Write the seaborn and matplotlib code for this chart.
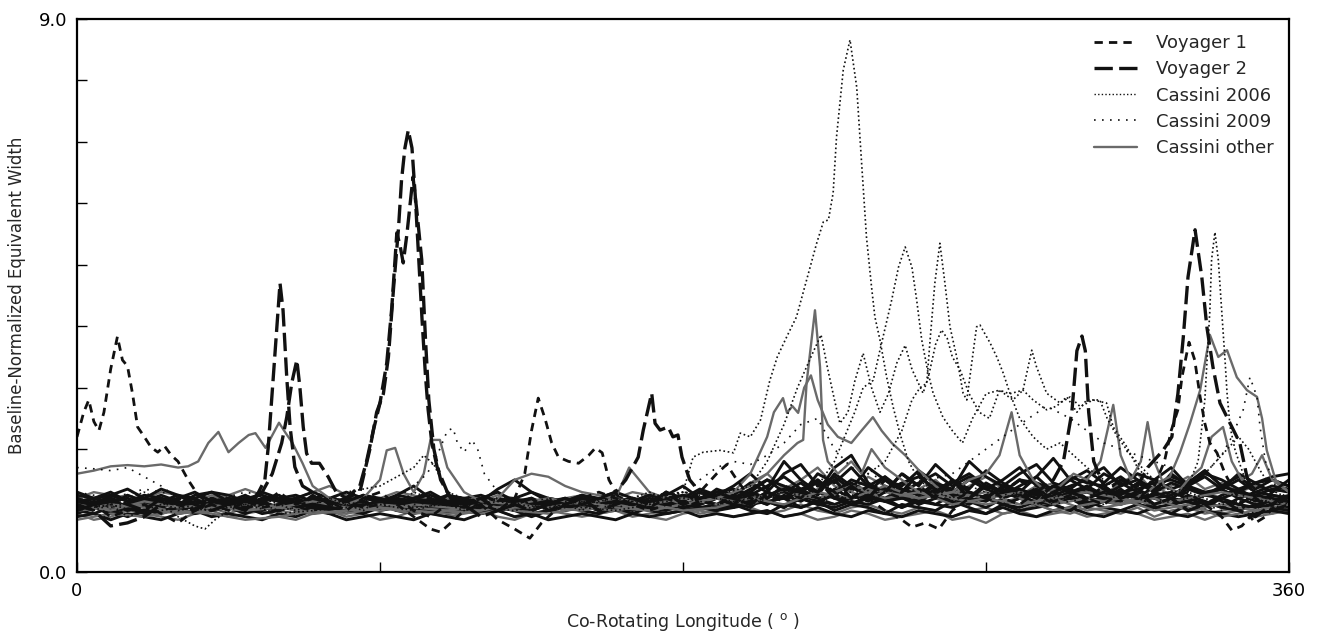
import numpy as np
import matplotlib
matplotlib.use("Agg")
import matplotlib.pyplot as plt
import seaborn as sns
from matplotlib.lines import Line2D

# ---- data ----
lon5 = list(range(0, 361, 5))

# Voyager 1 profiles
v1a_lon = [0, 2, 3.5, 5, 6.5, 8, 10, 12, 13.5, 15, 16.5, 18, 20, 22, 24, 26, 28, 30, 33, 36, 40, 45, 50, 55,
           60, 65, 70, 75, 80, 85, 90, 95, 100, 105, 110, 115, 120, 125, 130, 133, 135, 137, 139, 141, 143,
           146, 149, 152, 154, 156, 158, 161, 165, 170, 175, 180, 185, 190, 195, 200, 205, 210, 215, 220, 225,
           230, 235, 240, 245, 250, 255, 260, 265, 270, 275, 280, 285, 290, 295, 300, 305, 310, 315, 320, 323,
           325, 327, 328.2, 330.3, 332, 333.6, 335, 336.5, 338.6, 341, 344, 347, 350, 353, 356, 360]
v1a_val = [2.2, 2.6, 2.8, 2.45, 2.3, 2.6, 3.3, 3.83, 3.45, 3.35, 2.9, 2.36, 2.2, 2.03, 1.95, 2.05, 1.9, 1.8, 1.5,
           1.25, 1.1, 1.0, 1.15, 1.05, 1.1, 1.2, 1.0, 1.1, 1.15, 1.05, 1.1, 1.2, 1.0, 0.9, 1.1, 1.05, 1.1, 1.0,
           1.2, 1.6, 2.3, 2.83, 2.5, 2.1, 1.87, 1.8, 1.77, 1.9, 2.02, 1.94, 1.5, 1.2, 1.1, 1.0, 1.1, 1.05, 1.15,
           1.1, 1.2, 1.1, 1.25, 1.15, 1.3, 1.2, 1.1, 1.25, 1.15, 1.3, 1.2, 1.1, 1.25, 1.15, 1.3, 1.2, 1.1, 1.2,
           1.3, 1.15, 1.25, 1.2, 1.1, 1.3, 1.2, 1.4, 1.8, 2.3, 2.64, 3.17, 3.74, 3.45, 2.85, 2.42, 2.1, 1.94,
           1.6, 1.3, 1.0, 0.8, 0.9, 1.1, 1.2]

v1b_lon = [0, 5, 10, 15, 20, 25, 30, 35, 40, 45, 50, 55, 60, 65, 70, 75, 80, 85, 90, 95, 100, 105, 108, 111,
           115, 120, 125, 130, 134.5, 138, 142, 145, 150, 155, 160, 165, 170, 175, 180, 185, 190, 193, 196,
           200, 205, 210, 215, 220, 225, 230, 235, 240, 245, 248, 252, 256, 260, 265, 270, 275, 280, 285, 290,
           295, 300, 305, 310, 315, 320, 325, 330, 335, 340, 343, 346, 350, 355, 360]
v1b_val = [1.2, 1.1, 0.9, 1.0, 1.1, 0.95, 0.8, 1.0, 1.1, 1.2, 1.05, 1.1, 1.3, 1.1, 1.2, 1.15, 1.0, 1.2, 1.3, 1.1,
           0.9, 0.7, 0.65, 0.8, 1.0, 1.1, 0.85, 0.7, 0.55, 0.8, 1.0, 1.1, 1.2, 1.3, 1.2, 1.1, 1.05, 1.2, 1.1,
           1.3, 1.6, 1.75, 1.5, 1.2, 1.1, 1.3, 1.2, 1.5, 1.3, 1.1, 1.2, 1.0, 0.85, 0.73, 0.8, 0.7, 1.0, 1.2,
           1.4, 1.2, 1.1, 1.3, 1.1, 1.0, 1.2, 1.4, 1.2, 1.3, 1.1, 1.2, 1.3, 1.1, 0.9, 0.68, 0.75, 1.0, 1.3, 1.5]

# Voyager 2 profiles
v2a_lon = [0, 5, 10, 15, 20, 25, 30, 35, 40, 45, 50, 55, 58, 60.8, 62.3, 63.8, 65.3, 66.2, 67.2, 68.2, 69.7,
           72, 74.6, 77, 80, 84, 86, 88, 90, 92, 93.5, 95, 96, 96.9, 98, 99.8, 100.9, 102.4, 103.5, 104.5, 106,
           108, 111, 115, 120, 125, 130, 135, 140, 145, 150, 155, 160, 163, 166.7, 168.2, 170.7, 171.7, 173.2,
           175.6, 177, 178.5, 179.7, 182, 185, 190, 195, 200, 205, 210, 215, 220, 225, 230, 235, 240, 245,
           250, 255, 260, 265, 270, 275, 280, 285, 290, 293, 295.5, 297, 298.5, 299.5, 300.5, 302, 305, 310,
           315, 320, 325, 330, 335, 340, 345, 350, 355, 360]
v2a_val = [1.1, 1.0, 0.75, 0.8, 0.9, 1.1, 1.2, 1.1, 1.0, 1.1, 1.2, 1.3, 1.6, 2.1, 2.52, 3.08, 3.45, 3.01, 2.36,
           1.93, 1.77, 1.77, 1.55, 1.3, 1.2, 1.4, 1.8, 2.3, 2.75, 3.4, 4.3, 5.52, 5.3, 5.03, 5.5, 6.43, 5.9,
           5.08, 3.8, 2.8, 2.0, 1.5, 1.2, 1.1, 0.9, 1.0, 1.1, 1.0, 1.1, 1.2, 1.1, 1.2, 1.3, 1.5, 1.87, 2.31,
           2.91, 2.42, 2.31, 2.36, 2.2, 2.23, 1.87, 1.5, 1.3, 1.2, 1.1, 1.3, 1.2, 1.4, 1.3, 1.5, 1.2, 1.4, 1.2,
           1.5, 1.3, 1.6, 1.3, 1.5, 1.2, 1.4, 1.3, 1.5, 1.3, 1.5, 1.8, 2.6, 3.6, 3.84, 3.6, 2.6, 1.8, 1.4, 1.2,
           1.3, 1.1, 1.2, 1.0, 1.1, 1.2, 1.0, 0.9, 1.1, 1.3]

v2b_lon = [0, 5, 10, 15, 20, 25, 30, 35, 40, 45, 50, 53, 55.8, 56.8, 58.3, 60.3, 61.2, 62.3, 63.3, 64.7, 67,
           70, 75, 80, 84, 87, 89, 91, 92.5, 94, 95.5, 96.4, 97.4, 98.4, 99.5, 100.5, 101.5, 102.5, 103.5,
           104.3, 105.4, 107, 110, 115, 120, 125, 130, 135, 140, 145, 150, 155, 160, 165, 170, 175, 180, 185,
           190, 195, 200, 205, 210, 215, 220, 225, 230, 235, 240, 245, 250, 255, 260, 265, 270, 275, 280, 285,
           290, 295, 300, 305, 310, 315, 318, 322.6, 325.2, 327, 328.6, 330, 332.1, 334.1, 335.6, 337.4,
           339.5, 342.5, 345.4, 347.5, 350, 355, 360]
v2b_val = [1.0, 1.1, 1.2, 1.1, 1.0, 1.2, 1.1, 1.0, 1.2, 1.1, 1.0, 1.2, 1.5, 2.03, 3.17, 4.7, 4.26, 3.17, 2.36,
           1.71, 1.4, 1.3, 1.1, 1.2, 1.3, 2.0, 2.6, 2.9, 3.5, 4.6, 5.6, 6.38, 6.9, 7.19, 6.9, 6.1, 5.1, 4.1,
           3.2, 2.64, 2.1, 1.7, 1.3, 1.1, 1.2, 1.0, 1.1, 1.2, 1.0, 1.1, 1.2, 1.0, 1.1, 1.2, 1.1, 1.3, 1.1, 1.2,
           1.3, 1.2, 1.1, 1.3, 1.2, 1.4, 1.3, 1.5, 1.2, 1.4, 1.3, 1.6, 1.4, 1.2, 1.5, 1.3, 1.2, 1.4, 1.3, 1.2,
           1.4, 1.3, 1.2, 1.3, 1.5, 1.4, 1.7, 1.98, 2.2, 2.9, 3.82, 4.8, 5.57, 4.8, 3.99, 3.34, 2.75, 2.42,
           2.1, 1.55, 1.2, 1.0, 1.1]

# Cassini 2006 profiles
c06a_lon = [0, 5, 10, 15, 20, 25, 30, 35, 38, 41, 45, 50, 55, 60, 65, 70, 75, 80, 85, 90, 95, 100, 105, 110,
            115, 120, 125, 130, 135, 140, 145, 150, 155, 160, 165, 170, 175, 180, 183, 186, 191, 195, 197, 200,
            203, 205.8, 208, 211, 213.7, 216.7, 219.7, 221.7, 223.2, 224.6, 225.6, 227.6, 229.6, 231.6, 233,
            234.5, 236, 237, 238.5, 240.5, 242.4, 244.4, 247, 250, 255, 260, 265, 270, 275, 280, 285, 290,
            295, 300, 305, 310, 315, 320, 325, 330, 335, 340, 345, 350, 355, 360]
c06a_val = [1.1, 1.0, 1.1, 0.9, 1.0, 1.1, 0.9, 0.75, 0.7, 0.85, 1.0, 1.1, 1.2, 1.1, 1.0, 1.1, 1.2, 1.1, 1.0,
            1.2, 1.1, 1.3, 1.2, 1.1, 1.0, 1.1, 1.2, 1.1, 1.0, 1.2, 1.1, 1.0, 1.2, 1.1, 1.2, 1.3, 1.2, 1.3, 1.87,
            1.95, 1.98, 1.94, 2.26, 2.2, 2.47, 3.12, 3.5, 3.85, 4.15, 4.75, 5.35, 5.7, 5.73, 6.17, 7.08, 8.17,
            8.66, 7.89, 6.7, 5.45, 4.64, 4.15, 3.78, 3.17, 2.69, 2.26, 1.8, 1.5, 1.3, 1.2, 1.4, 1.3, 1.2, 1.3,
            1.1, 1.2, 1.3, 1.2, 1.1, 1.3, 1.2, 1.1, 1.3, 1.2, 1.1, 1.2, 1.3, 1.1, 1.2, 1.1]

c06b_lon = [0, 10, 20, 30, 40, 50, 60, 70, 80, 90, 100, 103, 106, 110, 120, 130, 140, 150, 160, 170, 180,
            190, 200, 210, 215, 220, 225, 228, 231, 233.5, 236.5, 238.5, 242, 244, 246, 248, 249.4, 250.9,
            252.8, 254.3, 257.2, 260, 263, 266, 270, 274, 278, 281, 283.6, 285, 288, 292, 295, 298, 301.8,
            305.8, 307.8, 311.8, 315, 320, 325, 330, 340, 350, 360]
c06b_val = [1.2, 1.1, 1.3, 1.0, 1.1, 1.2, 1.0, 1.1, 1.3, 1.4, 1.7, 1.9, 1.75, 1.3, 1.1, 1.2, 1.0, 1.1, 1.2,
            1.1, 1.3, 1.2, 1.1, 1.3, 1.2, 1.4, 1.8, 2.2, 2.6, 3.0, 3.12, 3.61, 4.43, 4.96, 5.29, 4.96, 4.43,
            3.78, 3.24, 2.91, 2.52, 2.3, 2.1, 2.5, 2.9, 2.96, 2.8, 2.96, 3.61, 3.34, 2.91, 2.75, 2.85, 2.69,
            2.8, 2.75, 2.36, 2.04, 1.7, 1.4, 1.2, 1.3, 1.1, 1.2, 1.0]

c06c_lon = [0, 10, 20, 30, 40, 50, 60, 70, 80, 90, 100, 110, 120, 130, 140, 150, 160, 170, 180, 190, 200, 210,
            220, 230, 235, 240, 245, 248, 250.4, 252.4, 253.4, 254.8, 256.3, 257.8, 259.3, 261.3, 263.2,
            264.3, 266, 267.2, 268.2, 271.2, 273.2, 275.1, 277.1, 280, 284, 288, 292, 296, 300, 305, 310,
            315, 320, 325, 330, 333, 335, 336.5, 337, 338, 339, 340, 341, 341.6, 342.5, 344, 347, 350, 355,
            360]
c06c_val = [1.0, 1.1, 0.95, 1.05, 1.0, 1.1, 0.95, 1.0, 1.05, 1.1, 1.0, 1.15, 1.05, 1.0, 1.1, 1.05, 1.0, 1.1,
            1.2, 1.1, 1.2, 1.3, 1.2, 1.3, 1.6, 1.8, 2.3, 2.8, 3.0, 3.07, 3.78, 4.7, 5.35, 4.7, 3.99, 3.5, 2.91,
            2.8, 3.5, 3.99, 4.02, 3.73, 3.5, 3.24, 2.91, 2.5, 2.2, 2.0, 2.1, 1.9, 1.7, 1.5, 1.3, 1.2, 1.3, 1.2,
            1.4, 1.8, 2.8, 4.26, 5.08, 5.53, 5.08, 4.26, 3.45, 2.91, 2.36, 1.98, 1.5, 1.2, 1.1, 1.2]

c06d_lon = [0, 10, 20, 30, 40, 50, 60, 70, 80, 90, 100, 110, 120, 130, 140, 150, 160, 170, 180, 190, 200,
            205, 210, 214, 218, 221, 223, 225, 226.6, 229, 231, 233.5, 236, 238.5, 241, 243.5, 246, 248,
            251.3, 253, 255, 256.8, 258.5, 260, 262.3, 265, 268, 271, 274, 277, 281, 284, 288, 291, 294, 297,
            299.9, 303.8, 306, 309, 313, 318, 322, 326, 330, 335, 340, 345, 348, 352, 356, 360]
c06d_val = [1.15, 1.05, 1.2, 1.1, 1.0, 1.15, 1.2, 1.05, 1.1, 1.2, 1.05, 1.1, 1.2, 1.1, 1.05, 1.15, 1.1, 1.2,
            1.3, 1.25, 1.4, 1.8, 2.4, 3.0, 3.5, 3.86, 3.3, 2.8, 2.42, 2.6, 3.1, 3.56, 3.0, 2.6, 2.9, 3.4, 3.69,
            3.3, 2.91, 3.2, 3.7, 3.94, 3.8, 3.5, 3.29, 2.9, 2.6, 2.5, 2.96, 2.9, 2.96, 2.8, 2.64, 2.7, 2.85,
            2.6, 2.8, 2.8, 2.5, 2.2, 1.9, 1.6, 1.4, 1.3, 1.4, 1.6, 1.9, 2.2, 2.0, 1.6, 1.3, 1.2]

# Cassini 2009 profiles
c09a_lon = [0, 5, 10, 15, 20, 25, 30, 35, 40, 50, 60, 70, 80, 90, 95, 100, 104, 107, 110, 111.7, 113, 115,
            117.3, 119, 121, 125, 130, 140, 150, 160, 170, 180, 185, 190, 195, 200, 205, 210, 215, 220, 225,
            230, 240, 250, 260, 270, 280, 290, 300, 310, 320, 330, 340, 350, 360]
c09a_val = [1.7, 1.68, 1.65, 1.7, 1.55, 1.4, 1.2, 1.1, 1.15, 1.05, 1.1, 1.2, 1.1, 1.05, 1.2, 1.4, 1.6, 1.9, 2.3,
            2.34, 2.1, 1.95, 2.15, 2.0, 1.6, 1.3, 1.1, 1.2, 1.1, 1.05, 1.15, 1.2, 1.5, 1.7, 1.8, 1.75, 1.9, 2.1,
            2.4, 2.5, 2.0, 1.7, 1.5, 1.3, 1.4, 1.2, 1.3, 1.1, 1.2, 1.3, 1.1, 1.2, 1.0, 1.1, 1.2]

c09b_lon = [0, 10, 20, 30, 40, 50, 60, 70, 80, 90, 100, 120, 140, 160, 180, 200, 220, 240, 260, 270, 280,
            288, 295, 300, 305, 310, 315, 320, 325, 330, 335, 340, 343, 346.4, 348.4, 350.5, 351.4, 353, 356,
            360]
c09b_val = [1.3, 1.2, 1.35, 1.25, 1.15, 1.3, 1.2, 1.1, 1.25, 1.2, 1.1, 1.2, 1.1, 1.2, 1.3, 1.2, 1.4, 1.3, 1.6,
            2.0, 2.4, 2.7, 2.5, 2.3, 2.1, 2.0, 1.9, 1.8, 1.7, 1.4, 1.6, 1.9, 2.2, 2.64, 3.17, 2.85, 2.36, 1.8,
            1.4, 1.2]

# Cassini other (grey) profiles with visible features
g1_lon = [0, 5, 10, 15, 20, 25, 30, 33, 36, 39, 42, 45, 48, 51, 53, 56, 60, 62, 64, 67, 70, 75, 80, 85, 90,
          92, 94.5, 97, 100, 103, 105, 107.8, 110, 115, 120, 130, 140, 150, 160, 170, 180, 190, 200, 210,
          220, 230, 240, 250, 260, 270, 280, 290, 300, 310, 320, 330, 340, 350, 360]
g1_val = [1.6, 1.65, 1.72, 1.74, 1.72, 1.75, 1.7, 1.72, 1.8, 2.1, 2.28, 1.95, 2.1, 2.23, 2.26, 2.02, 2.43, 2.26,
          2.1, 1.77, 1.4, 1.2, 1.1, 1.2, 1.5, 1.98, 2.02, 1.6, 1.3, 1.6, 2.15, 2.15, 1.7, 1.3, 1.15, 1.1, 1.2,
          1.1, 1.2, 1.1, 1.2, 1.1, 1.2, 1.3, 1.2, 1.4, 1.3, 1.2, 1.3, 1.2, 1.1, 1.2, 1.3, 1.2, 1.1, 1.2, 1.3,
          1.2, 1.1]

g2_lon = [0, 10, 20, 30, 40, 50, 60, 70, 80, 90, 100, 110, 120, 130, 140, 150, 160, 170, 180, 190, 195, 200,
          205, 210, 214, 215.7, 216.7, 219.2, 220.7, 221.6, 223, 226, 230, 233, 236, 240, 245, 250, 260, 270,
          280, 290, 300, 310, 320, 330, 340, 350, 360]
g2_val = [1.0, 1.05, 1.1, 0.95, 1.0, 1.1, 1.05, 0.95, 1.0, 1.1, 1.05, 1.0, 0.95, 1.05, 1.05, 1.0, 1.1, 1.0,
          1.1, 1.2, 1.3, 1.4, 1.6, 1.9, 2.1, 2.15, 3.07, 4.26, 3.34, 2.15, 1.8, 1.6, 1.8, 1.6, 2.0, 1.7, 1.5,
          1.3, 1.2, 1.3, 1.1, 1.2, 1.0, 1.1, 1.2, 1.0, 1.1, 1.0, 1.1]

g3_lon = [0, 10, 20, 30, 40, 50, 60, 70, 80, 90, 100, 110, 120, 125, 130, 135, 140, 145, 150, 160, 164, 170,
          180, 190, 195, 200, 205, 207, 209.7, 210.9, 212.5, 214.2, 216, 218, 220, 223, 226, 230, 233,
          236.4, 239, 242, 246, 250, 255, 260, 270, 280, 290, 300, 310, 320, 330, 340, 350, 360]
g3_val = [0.85, 0.95, 0.9, 1.0, 0.95, 0.85, 0.9, 1.0, 0.95, 1.05, 1.0, 0.95, 1.0, 1.2, 1.5, 1.6, 1.55, 1.4,
          1.3, 1.2, 1.7, 1.3, 1.1, 1.2, 1.3, 1.6, 2.2, 2.6, 2.83, 2.59, 2.7, 2.59, 3.0, 3.2, 2.8, 2.4, 2.2,
          2.1, 2.3, 2.52, 2.3, 2.1, 1.9, 1.66, 1.4, 1.2, 1.1, 1.2, 1.0, 1.1, 1.2, 1.0, 1.1, 0.9, 1.0, 1.1]

g4_lon = [0, 10, 20, 30, 40, 50, 60, 70, 80, 90, 100, 110, 120, 130, 140, 150, 160, 170, 180, 190, 200, 210,
          220, 230, 240, 250, 260, 270, 280, 290, 300, 310, 318, 321, 324.6, 327.6, 330.6, 333.6, 336.5, 339,
          341.6, 344.5, 347.5, 350.5, 352, 353.4, 356, 360]
g4_val = [1.1, 1.0, 1.15, 1.05, 1.1, 1.0, 1.05, 1.15, 1.05, 1.0, 1.1, 1.05, 1.0, 1.1, 1.05, 1.15, 1.05, 1.0,
          1.1, 1.2, 1.1, 1.3, 1.2, 1.4, 1.2, 1.3, 1.1, 1.2, 1.3, 1.1, 1.2, 1.1, 1.3, 1.45, 1.55, 1.94, 2.42,
          2.96, 3.86, 3.5, 3.61, 3.17, 2.96, 2.85, 2.5, 1.98, 1.5, 1.3]

g5_lon = [0, 10, 20, 30, 40, 50, 60, 70, 80, 90, 100, 110, 120, 130, 140, 150, 160, 170, 180, 190, 200, 210,
          220, 230, 240, 250, 260, 265, 270, 274, 277.6, 280, 284, 288, 292, 296, 300, 304, 307.8, 310, 313,
          316, 318, 320, 323, 327, 330, 334, 337, 340.4, 343, 346, 349, 352, 355, 360]
g5_val = [1.0, 1.1, 1.05, 0.95, 1.05, 1.0, 1.1, 0.95, 1.0, 1.05, 0.95, 1.0, 1.1, 1.0, 0.95, 1.05, 1.0, 1.1,
          1.0, 1.05, 1.2, 1.1, 1.3, 1.2, 1.4, 1.2, 1.3, 1.5, 1.6, 1.9, 2.6, 1.9, 1.5, 1.3, 1.4, 1.6, 1.5, 1.8,
          2.72, 1.9, 1.5, 1.8, 2.44, 1.8, 1.4, 1.3, 1.5, 1.7, 2.2, 2.36, 1.8, 1.5, 1.6, 1.9, 1.5, 1.3]

# background band of many profiles (5 degree grid, 73 values each)
band_black = [
    [1.10, 1.05, 1.15, 1.20, 1.10, 1.00, 1.05, 1.15, 1.10, 1.20,
     1.15, 1.05, 1.00, 1.10, 1.20, 1.15, 1.05, 1.10, 1.00, 1.05,
     1.15, 1.10, 1.05, 1.00, 1.10, 1.15, 1.05, 1.00, 1.10, 1.05,
     1.15, 1.10, 1.05, 1.00, 1.10, 1.15, 1.05, 1.10, 1.20, 1.15,
     1.05, 1.25, 1.35, 1.20, 1.10, 1.30, 1.40, 1.25, 1.15, 1.20,
     1.35, 1.25, 1.10, 1.20, 1.15, 1.30, 1.20, 1.10, 1.25, 1.35,
     1.20, 1.15, 1.30, 1.25, 1.10, 1.20, 1.35, 1.30, 1.15, 1.10,
     1.25, 1.20, 1.15],
    [0.95, 1.05, 1.00, 0.90, 1.00, 1.10, 1.05, 0.95, 1.00, 1.10,
     1.05, 0.95, 1.00, 1.10, 1.05, 0.95, 1.00, 1.05, 1.10, 1.00,
     0.95, 1.05, 1.10, 1.00, 0.95, 1.05, 1.00, 0.90, 1.00, 1.05,
     1.00, 0.95, 1.05, 1.10, 1.00, 0.95, 1.00, 1.05, 1.00, 1.10,
     1.00, 0.95, 1.10, 1.05, 1.15, 1.00, 1.10, 1.05, 0.95, 1.10,
     1.05, 1.00, 1.15, 1.05, 0.95, 1.10, 1.00, 1.05, 1.10, 1.00,
     1.15, 1.05, 1.00, 1.10, 1.05, 0.95, 1.10, 1.15, 1.05, 1.00,
     1.10, 1.05, 1.00],
    [1.25, 1.20, 1.30, 1.15, 1.25, 1.20, 1.10, 1.25, 1.30, 1.15,
     1.20, 1.25, 1.15, 1.20, 1.30, 1.20, 1.15, 1.25, 1.20, 1.10,
     1.20, 1.15, 1.25, 1.20, 1.10, 1.15, 1.20, 1.10, 1.15, 1.20,
     1.10, 1.15, 1.20, 1.15, 1.25, 1.20, 1.15, 1.30, 1.25, 1.20,
     1.35, 1.50, 1.30, 1.45, 1.25, 1.60, 1.40, 1.30, 1.55, 1.35,
     1.25, 1.45, 1.30, 1.50, 1.35, 1.25, 1.40, 1.55, 1.30, 1.40,
     1.50, 1.35, 1.25, 1.45, 1.30, 1.60, 1.40, 1.25, 1.35, 1.50,
     1.30, 1.40, 1.35],
    [1.05, 1.15, 1.10, 1.05, 1.15, 1.25, 1.15, 1.05, 1.10, 1.15,
     1.25, 1.10, 1.05, 1.15, 1.10, 1.05, 1.20, 1.15, 1.05, 1.15,
     1.10, 1.00, 1.10, 1.15, 1.05, 1.10, 1.00, 1.05, 1.10, 1.15,
     1.05, 1.10, 1.00, 1.05, 1.15, 1.10, 1.05, 1.15, 1.10, 1.05,
     1.20, 1.15, 1.05, 1.25, 1.15, 1.10, 1.20, 1.35, 1.15, 1.25,
     1.10, 1.20, 1.30, 1.15, 1.25, 1.10, 1.20, 1.15, 1.30, 1.20,
     1.10, 1.25, 1.20, 1.10, 1.30, 1.20, 1.15, 1.25, 1.20, 1.30,
     1.15, 1.25, 1.20],
    [0.90, 0.95, 0.85, 0.95, 0.90, 0.85, 0.95, 1.00, 0.90, 0.95,
     0.90, 0.85, 0.95, 0.90, 1.00, 0.95, 0.85, 0.90, 0.95, 0.90,
     0.85, 0.95, 0.90, 0.85, 0.95, 1.00, 0.90, 0.95, 0.85, 0.90,
     0.95, 0.90, 0.85, 0.95, 0.90, 0.95, 1.00, 0.90, 0.95, 0.90,
     0.95, 1.00, 0.90, 0.95, 1.05, 0.95, 0.90, 1.00, 0.95, 0.90,
     1.00, 0.95, 0.90, 1.00, 0.95, 1.05, 0.95, 0.90, 1.00, 1.05,
     0.95, 0.90, 1.00, 0.95, 1.05, 0.95, 0.90, 1.00, 0.95, 0.90,
     0.95, 1.00, 0.95],
    [1.15, 1.20, 1.10, 1.25, 1.15, 1.10, 1.20, 1.30, 1.15, 1.10,
     1.05, 1.20, 1.25, 1.10, 1.15, 1.05, 1.10, 1.25, 1.15, 1.10,
     1.20, 1.25, 1.15, 1.10, 1.20, 1.05, 1.15, 1.20, 1.10, 1.05,
     1.15, 1.20, 1.10, 1.15, 1.25, 1.20, 1.10, 1.15, 1.35, 1.25,
     1.45, 1.30, 1.60, 1.75, 1.40, 1.55, 1.35, 1.70, 1.50, 1.40,
     1.65, 1.45, 1.35, 1.80, 1.55, 1.40, 1.60, 1.75, 1.45, 1.35,
     1.55, 1.70, 1.40, 1.60, 1.50, 1.35, 1.45, 1.65, 1.40, 1.30,
     1.45, 1.55, 1.60],
    [1.00, 1.10, 1.20, 1.05, 0.95, 1.05, 1.15, 1.05, 1.00, 1.10,
     1.15, 1.05, 1.10, 1.00, 1.05, 1.15, 1.10, 1.00, 1.05, 1.15,
     1.05, 1.10, 1.00, 1.05, 1.15, 1.10, 1.00, 1.05, 1.10, 1.00,
     1.05, 1.10, 1.15, 1.05, 1.00, 1.10, 1.15, 1.05, 1.10, 1.15,
     1.20, 1.10, 1.25, 1.15, 1.30, 1.20, 1.10, 1.25, 1.35, 1.20,
     1.15, 1.30, 1.20, 1.10, 1.25, 1.35, 1.20, 1.30, 1.15, 1.25,
     1.30, 1.20, 1.35, 1.15, 1.25, 1.30, 1.20, 1.10, 1.25, 1.35,
     1.20, 1.15, 1.25],
    [1.30, 1.20, 1.25, 1.35, 1.20, 1.15, 1.25, 1.20, 1.30, 1.25,
     1.15, 1.30, 1.20, 1.25, 1.15, 1.20, 1.30, 1.20, 1.15, 1.25,
     1.20, 1.30, 1.15, 1.20, 1.25, 1.15, 1.20, 1.30, 1.20, 1.15,
     1.25, 1.20, 1.30, 1.20, 1.15, 1.20, 1.25, 1.20, 1.30, 1.35,
     1.25, 1.40, 1.55, 1.35, 1.45, 1.30, 1.50, 1.40, 1.30, 1.45,
     1.55, 1.35, 1.45, 1.60, 1.40, 1.30, 1.50, 1.45, 1.35, 1.55,
     1.45, 1.40, 1.55, 1.35, 1.45, 1.50, 1.40, 1.60, 1.50, 1.35,
     1.45, 1.50, 1.40],
    [1.00, 0.95, 1.05, 1.10, 1.20, 1.35, 1.25, 1.10, 1.05, 1.15,
     1.05, 1.00, 1.10, 1.20, 1.05, 1.00, 1.10, 1.15, 1.05, 1.25,
     1.40, 1.20, 1.10, 1.05, 1.15, 1.35, 1.50, 1.30, 1.15, 1.05,
     1.10, 1.00, 1.05, 1.15, 1.10, 1.25, 1.40, 1.20, 1.05, 1.10,
     1.15, 1.30, 1.20, 1.05, 1.15, 1.25, 1.10, 1.20, 1.15, 1.05,
     1.20, 1.10, 1.25, 1.15, 1.05, 1.20, 1.30, 1.10, 1.15, 1.25,
     1.10, 1.20, 1.15, 1.30, 1.20, 1.10, 1.25, 1.15, 1.05, 1.20,
     1.10, 1.15, 1.05],
    [1.05, 1.15, 1.00, 1.10, 1.20, 1.05, 1.15, 1.00, 1.10, 1.05,
     1.20, 1.10, 1.00, 1.15, 1.05, 1.20, 1.10, 1.05, 1.15, 1.00,
     1.10, 1.20, 1.05, 1.15, 1.00, 1.10, 1.05, 1.15, 1.20, 1.10,
     1.05, 1.15, 1.25, 1.10, 1.05, 1.20, 1.10, 1.15, 1.25, 1.40,
     1.60, 1.35, 1.80, 1.50, 1.30, 1.70, 1.90, 1.45, 1.30, 1.60,
     1.40, 1.75, 1.50, 1.35, 1.65, 1.45, 1.30, 1.55, 1.85, 1.50,
     1.35, 1.60, 1.45, 1.30, 1.50, 1.70, 1.40, 1.55, 1.35, 1.60,
     1.45, 1.30, 1.50],
    [1.20, 1.10, 1.25, 1.15, 1.05, 1.20, 1.10, 1.20, 1.05, 1.15,
     1.10, 1.20, 1.15, 1.05, 1.25, 1.10, 1.20, 1.15, 1.05, 1.20,
     1.15, 1.05, 1.25, 1.15, 1.20, 1.30, 1.15, 1.10, 1.20, 1.15,
     1.25, 1.10, 1.15, 1.20, 1.10, 1.30, 1.20, 1.35, 1.25, 1.20,
     1.30, 1.50, 1.40, 1.25, 1.60, 1.45, 1.70, 1.40, 1.55, 1.30,
     1.45, 1.60, 1.40, 1.55, 1.35, 1.50, 1.70, 1.40, 1.30, 1.50,
     1.65, 1.45, 1.70, 1.50, 1.35, 1.55, 1.45, 1.65, 1.40, 1.55,
     1.35, 1.50, 1.40],
    [1.00, 1.05, 0.95, 1.05, 1.00, 0.95, 1.05, 1.10, 1.00, 1.05,
     0.95, 1.05, 1.00, 1.10, 0.95, 1.05, 1.00, 0.95, 1.05, 1.10,
     1.00, 1.05, 0.95, 1.00, 1.10, 1.00, 1.05, 0.95, 1.00, 1.05,
     1.10, 1.00, 1.05, 0.95, 1.05, 1.00, 1.10, 1.05, 1.00, 1.05,
     1.10, 1.15, 1.05, 1.20, 1.10, 1.05, 1.15, 1.10, 1.20, 1.05,
     1.15, 1.10, 1.05, 1.15, 1.20, 1.10, 1.05, 1.15, 1.10, 1.20,
     1.05, 1.15, 1.10, 1.20, 1.05, 1.10, 1.15, 1.05, 1.20, 1.10,
     1.05, 1.10, 1.15],
    [1.15, 1.05, 1.10, 1.00, 1.10, 1.15, 1.00, 1.10, 1.20, 1.05,
     1.10, 1.15, 1.05, 1.20, 1.10, 1.00, 1.15, 1.05, 1.20, 1.10,
     1.05, 1.15, 1.10, 1.00, 1.05, 1.20, 1.10, 1.15, 1.05, 1.10,
     1.20, 1.05, 1.10, 1.15, 1.05, 1.10, 1.05, 1.20, 1.10, 1.25,
     1.15, 1.30, 1.20, 1.35, 1.20, 1.25, 1.45, 1.30, 1.20, 1.35,
     1.25, 1.40, 1.30, 1.20, 1.45, 1.30, 1.35, 1.25, 1.40, 1.30,
     1.35, 1.25, 1.40, 1.50, 1.30, 1.45, 1.35, 1.25, 1.40, 1.30,
     1.25, 1.35, 1.30],
    [1.10, 1.20, 1.15, 1.05, 1.15, 1.20, 1.10, 1.05, 1.15, 1.20,
     1.10, 1.15, 1.20, 1.05, 1.10, 1.20, 1.15, 1.05, 1.10, 1.15,
     1.20, 1.10, 1.15, 1.10, 1.05, 1.20, 1.15, 1.10, 1.05, 1.15,
     1.20, 1.10, 1.15, 1.10, 1.20, 1.15, 1.05, 1.10, 1.20, 1.15,
     1.25, 1.15, 1.20, 1.30, 1.15, 1.35, 1.20, 1.25, 1.40, 1.25,
     1.20, 1.35, 1.25, 1.30, 1.20, 1.40, 1.25, 1.35, 1.20, 1.30,
     1.40, 1.25, 1.30, 1.35, 1.20, 1.25, 1.40, 1.30, 1.35, 1.20,
     1.30, 1.25, 1.20],
]

band_grey = [
    [1.05, 1.10, 1.00, 1.15, 1.10, 1.05, 1.00, 1.10, 1.05, 0.95,
     1.05, 1.10, 1.00, 0.95, 1.05, 1.00, 0.95, 1.05, 1.10, 1.00,
     0.95, 1.00, 1.05, 1.00, 0.95, 1.00, 0.90, 0.95, 1.00, 1.05,
     1.00, 0.95, 1.00, 0.90, 0.95, 1.00, 1.05, 0.95, 1.00, 1.10,
     1.05, 0.95, 1.00, 1.10, 1.00, 0.95, 1.05, 1.10, 1.00, 0.95,
     1.05, 1.00, 0.90, 1.00, 1.05, 0.95, 1.00, 1.10, 1.00, 0.95,
     1.05, 1.00, 0.95, 1.05, 0.90, 1.00, 1.05, 0.95, 1.00, 1.05,
     1.00, 0.95, 1.05],
    [1.20, 1.30, 1.25, 1.15, 1.20, 1.30, 1.25, 1.15, 1.20, 1.25,
     1.35, 1.25, 1.15, 1.20, 1.30, 1.40, 1.25, 1.15, 1.20, 1.30,
     1.25, 1.15, 1.20, 1.10, 1.15, 1.25, 1.20, 1.15, 1.10, 1.20,
     1.25, 1.15, 1.20, 1.30, 1.25, 1.15, 1.10, 1.20, 1.30, 1.20,
     1.45, 1.60, 1.35, 1.50, 1.70, 1.40, 1.30, 1.55, 1.40, 1.30,
     1.35, 1.50, 1.25, 1.40, 1.55, 1.35, 1.25, 1.40, 1.30, 1.50,
     1.35, 1.25, 1.45, 1.60, 1.30, 1.40, 1.55, 1.35, 1.45, 1.30,
     1.40, 1.30, 1.35],
    [0.95, 0.85, 0.90, 1.00, 0.95, 0.90, 0.85, 0.95, 1.00, 0.90,
     0.95, 1.00, 0.90, 0.85, 0.95, 1.00, 0.90, 0.95, 0.85, 0.90,
     1.00, 0.95, 0.90, 0.95, 1.00, 0.90, 0.85, 0.95, 1.00, 0.95,
     0.90, 0.95, 1.00, 0.95, 0.90, 0.85, 0.95, 1.00, 0.95, 0.90,
     0.95, 1.00, 0.90, 0.95, 0.85, 0.90, 1.00, 0.95, 0.85, 0.90,
     0.95, 1.00, 0.85, 0.90, 0.80, 0.95, 1.00, 0.90, 0.95, 1.00,
     0.90, 0.95, 1.00, 0.95, 0.85, 0.90, 0.95, 0.85, 0.95, 1.00,
     0.90, 0.95, 1.00],
    [1.15, 1.10, 1.20, 1.25, 1.15, 1.20, 1.10, 1.15, 1.25, 1.15,
     1.10, 1.20, 1.15, 1.25, 1.10, 1.15, 1.20, 1.10, 1.15, 1.20,
     1.15, 1.10, 1.20, 1.15, 1.05, 1.15, 1.20, 1.10, 1.15, 1.10,
     1.15, 1.20, 1.10, 1.15, 1.20, 1.15, 1.25, 1.30, 1.20, 1.15,
     1.30, 1.20, 1.40, 1.25, 1.35, 1.55, 1.30, 1.20, 1.35, 1.45,
     1.30, 1.20, 1.35, 1.25, 1.40, 1.30, 1.20, 1.35, 1.45, 1.25,
     1.20, 1.35, 1.30, 1.20, 1.40, 1.25, 1.35, 1.30, 1.20, 1.30,
     1.25, 1.35, 1.30],
]

legend_labels = ["Voyager 1", "Voyager 2", "Cassini 2006", "Cassini 2009", "Cassini other"]

# ---- styles ----
BLACK = "#111111"
GREY = "#6a6a6a"
style_v1 = dict(color=BLACK, lw=2.0, linestyle=(0, (3, 2.2)))
style_v2 = dict(color=BLACK, lw=2.4, linestyle=(0, (5.5, 1.9)))
style_c06 = dict(color=BLACK, lw=1.2, linestyle=(0, (1, 1.6)))
style_c09 = dict(color=BLACK, lw=1.2, linestyle=(0, (1, 3.8)))
style_oth = dict(color=GREY, lw=1.7, linestyle="-")

sns.set_style("white")
plt.rcParams["font.family"] = ["DejaVu Sans"]

fig = plt.figure(figsize=(13.23, 6.37), dpi=100)
ax = fig.add_axes([0.0582, 0.1020, 0.9161, 0.8682])


def draw(x, y, style, **extra):
    kw = dict(style)
    kw.update(extra)
    sns.lineplot(x=x, y=y, ax=ax, estimator=None, sort=False, legend=False, **kw)


# background band
for vals in band_grey:
    draw(lon5, vals, style_oth)
for vals in band_black:
    draw(lon5, vals, dict(color=BLACK, lw=2.1, linestyle="-"))

# grey profiles with features
for x, y in [(g1_lon, g1_val), (g2_lon, g2_val), (g3_lon, g3_val), (g4_lon, g4_val), (g5_lon, g5_val)]:
    draw(x, y, style_oth)

# Cassini dotted profiles
for x, y in [(c06a_lon, c06a_val), (c06b_lon, c06b_val), (c06c_lon, c06c_val), (c06d_lon, c06d_val)]:
    draw(x, y, style_c06)
for x, y in [(c09a_lon, c09a_val), (c09b_lon, c09b_val)]:
    draw(x, y, style_c09)

# Voyager dashed profiles
for x, y in [(v1a_lon, v1a_val), (v1b_lon, v1b_val)]:
    draw(x, y, style_v1)
for x, y in [(v2a_lon, v2a_val), (v2b_lon, v2b_val)]:
    draw(x, y, style_v2)

ax.set_xlim(0, 360)
ax.set_ylim(0, 9)
ax.set_xticks([0, 90, 180, 270, 360])
ax.set_xticklabels(["0", "", "", "", "360"])
ax.set_yticks(range(10))
ax.set_yticklabels(["0.0"] + [""] * 8 + ["9.0"])
ax.tick_params(direction="in", length=7, width=1, top=False, right=False,
               labelsize=13, colors="black", pad=7, left=True, bottom=True)
for sp in ax.spines.values():
    sp.set_visible(True)
    sp.set_color("black")
    sp.set_linewidth(1.6)

ax.set_xlabel("Co-Rotating Longitude ( $^\\mathrm{o}$ )", fontsize=12.5, labelpad=8)
ax.set_ylabel("Baseline-Normalized Equivalent Width", fontsize=12, labelpad=9)

handles = [Line2D([], [], **style_v1), Line2D([], [], **style_v2),
           Line2D([], [], color=BLACK, lw=1.0, linestyle=(0, (1, 1.6))),
           Line2D([], [], **style_c09), Line2D([], [], **style_oth)]
ax.legend(handles, legend_labels, loc="upper right", frameon=False, fontsize=13,
          handlelength=2.4, handletextpad=1.05, labelspacing=0.45, borderaxespad=0.45,
          bbox_to_anchor=(1, 1))

fig.savefig("out.png", dpi=100)
